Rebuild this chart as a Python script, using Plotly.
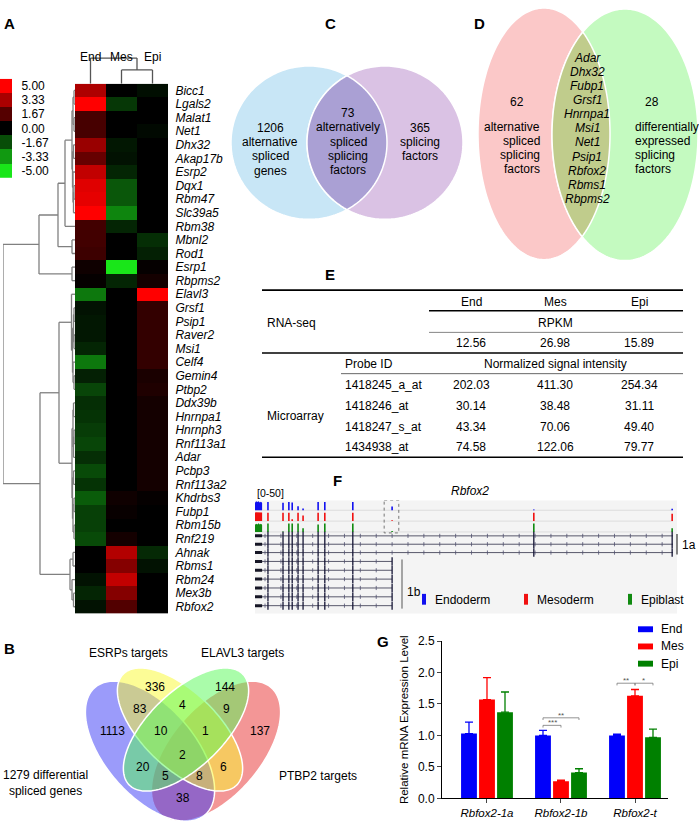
import numpy as np
import plotly.graph_objects as go

W, H = 699, 825
FONT = "Liberation Sans, Arial, sans-serif"


def px(x):
    return x / W


def py(y):
    return 1 - y / H


# ============================ DATA ============================
# ---- Panel A: heatmap of splicing factors ----
genes = ["Bicc1", "Lgals2", "Malat1", "Net1", "Dhx32", "Akap17b", "Esrp2", "Dqx1", "Rbm47", "Slc39a5",
         "Rbm38", "Mbnl2", "Rod1", "Esrp1", "Rbpms2", "Elavl3", "Grsf1", "Psip1", "Raver2", "Msi1",
         "Celf4", "Gemin4", "Ptbp2", "Ddx39b", "Hnrnpa1", "Hnrnph3", "Rnf113a1", "Adar", "Pcbp3", "Rnf113a2",
         "Khdrbs3", "Fubp1", "Rbm15b", "Rnf219", "Ahnak", "Rbms1", "Rbm24", "Mex3b", "Rbfox2"]
end_z = [3.4, 5.0, 1.4, 1.4, 3.0, 2.0, 3.8, 4.4, 4.5, 5.0,
         1.3, 1.3, 1.2, 0.3, 0.1, -2.6, -0.4, -0.5, -0.5, -0.8,
         -2.6, -0.7, -1.5, -1.0, -1.1, -1.3, -1.5, -1.0, -1.6, -1.1,
         -2.0, -1.4, -1.4, -1.6, 0.0, 0.0, -0.4, -0.8, -0.4]
mes_z = [0.0, -1.2, 0.0, 0.0, -0.5, -0.4, -0.8, -1.9, -1.9, -2.9,
         -0.8, 0.0, 0.0, -5.0, -0.8, 0.0, 0.0, 0.0, 0.0, 0.0,
         0.0, 0.0, 0.0, 0.0, 0.0, 0.0, 0.0, 0.0, 0.0, 0.0,
         0.3, 0.15, 0.0, 0.4, 3.5, 2.6, 3.8, 2.6, 1.6]
epi_z = [-0.3, 0.0, 0.0, -0.2, 0.0, 0.0, 0.0, 0.0, 0.0, 0.0,
         0.0, -1.0, -0.7, 0.1, 0.4, 5.0, 1.0, 1.0, 1.0, 1.0,
         1.0, 0.5, 0.6, 0.4, 0.4, 0.4, 0.4, 0.4, 0.4, 0.4,
         0.1, 0.0, 0.0, 0.0, -0.9, -0.4, 0.0, 0.0, 0.0]
conditions = ["End", "Mes", "Epi"]
cbar_values = [5.00, 3.33, 1.67, 0.00, -1.67, -3.33, -5.00]

# dendrograms: [merge height, left, right]; leaves are row / column indices
row_tree = [72,
            [36,
             [17,
              [10,
               [3, [2, [1, 0, 1], [1, 2, 3]], [2.5, [1.5, 4, 5], [2, 6, [1.5, [1, 7, 8], 9]]]],
               10],
              [3, 11, 12]],
             [3, 13, 14]],
            [35,
             [16,
              [3.5, 15, [2.5, [1.5, [1, 16, 17], [1, 18, 19]], [2, 20, [1, 21, 22]]]],
              [3, [2, [1.5, 23, 24], [1.5, [1, 25, 26], 27]],
               [2.5, [1.5, 28, 29], [2, [1, 30, 31], [1, 32, 33]]]]],
             [5, [2, 34, 35], [3, 36, [1.5, 37, 38]]]]]
col_tree = [26, 0, [14, 1, 2]]

# ---- Panel B: four-set Venn ----
venn4_labels = ["1279 differential<br>spliced genes", "ESRPs targets", "ELAVL3 targets", "PTBP2 targets"]
venn4_counts = [336, 144, 1113, 83, 4, 9, 137, 10, 1, 2, 20, 6, 5, 8, 38]

# ---- Panel C ----
venn_c_counts = [1206, 73, 365]
# ---- Panel D ----
venn_d_counts = [62, 28]
d_shared = ["Adar", "Dhx32", "Fubp1", "Grsf1", "Hnrnpa1", "Msi1", "Net1", "Psip1", "Rbfox2", "Rbms1", "Rbpms2"]

# ---- Panel E: table ----
tbl_cols = ["End", "Mes", "Epi"]
rpkm = [12.56, 26.98, 15.89]
probe_ids = ["1418245_a_at", "1418246_at", "1418247_s_at", "1434938_at"]
probe_end = [202.03, 30.14, 43.34, 74.58]
probe_mes = [411.30, 38.48, 70.06, 122.06]
probe_epi = [254.34, 31.11, 49.40, 79.77]

# ---- Panel F: Rbfox2 track (relative genomic units 0-1000) ----
first_exon = [0, 17]
exon_pos = [31, 67, 81, 89, 103, 115, 151, 167, 234, 328, 667, 998]
cov_end = [45, 40, 45, 42, 22, 10, 45, 45, 45, 20, 5, 8]
cov_mes = [45, 45, 45, 10, 45, 30, 45, 45, 45, 5, 45, 40]
cov_epi = [45, 3, 45, 45, 45, 20, 40, 45, 45, 5, 45, 20]
blk_end = [40, 48, 44, 48, 42, 46, 40]
blk_mes = [46, 48, 47, 48, 46, 48, 46]
blk_epi = [38, 44, 40, 46, 40, 44, 38]
short_end = 328

# ---- Panel G: qPCR ----
g_cats = ["Rbfox2-1a", "Rbfox2-1b", "Rbfox2-t"]
g_end = [1.03, 1.00, 1.00]
g_end_err = [0.18, 0.08, 0.02]
g_mes = [1.57, 0.27, 1.63]
g_mes_err = [0.35, 0.02, 0.10]
g_epi = [1.37, 0.41, 0.97]
g_epi_err = [0.32, 0.06, 0.13]

# ============================ FIGURE ============================
fig = go.Figure()
shapes = []
annots = []


def txt(x, y, s, size=12, anchor="center", color="black", bold=False, italic=False, xref="paper", yref="paper"):
    if bold:
        s = f"<b>{s}</b>"
    if italic:
        s = f"<i>{s}</i>"
    annots.append(dict(x=px(x) if xref == "paper" else x, y=py(y) if yref == "paper" else y,
                       xref=xref, yref=yref, text=s, showarrow=False, xanchor=anchor, yanchor="middle",
                       font=dict(size=size, color=color, family=FONT)))


def hidden(**kw):
    d = dict(showgrid=False, zeroline=False, showticklabels=False, showline=False, ticks="", fixedrange=True)
    d.update(kw)
    return d


# ---------- Panel A ----------
cs = [[0, "rgb(25,230,25)"], [0.5, "rgb(0,0,0)"], [1, "rgb(255,0,0)"]]
zmat = [[e, m, p] for e, m, p in zip(end_z, mes_z, epi_z)]
fig.add_trace(go.Heatmap(z=zmat, x=[0, 1, 2], y=list(range(len(genes))), colorscale=cs, zmin=-5, zmax=5,
                         showscale=False, xaxis="x", yaxis="y", hoverinfo="skip"))
fig.add_trace(go.Heatmap(z=[[v] for v in cbar_values], x=[0], y=list(range(len(cbar_values))), colorscale=cs,
                         zmin=-5, zmax=5, showscale=False, xaxis="x2", yaxis="y2", hoverinfo="skip"))


def dendro(node, segs):
    if isinstance(node, int):
        return float(node), 0.0
    h, a, b = node
    pa, ha = dendro(a, segs)
    pb, hb = dendro(b, segs)
    segs.append((ha, pa, h, pa))
    segs.append((hb, pb, h, pb))
    segs.append((h, pa, h, pb))
    return (pa + pb) / 2, h


rsegs = []
dendro(row_tree, rsegs)
xs, ys = [], []
for h0, p0, h1, p1 in rsegs:
    xs += [h0, h1, None]
    ys += [p0, p1, None]
fig.add_trace(go.Scatter(x=xs, y=ys, mode="lines", line=dict(color="#808080", width=1.3),
                         xaxis="x3", yaxis="y3", cliponaxis=False, showlegend=False, hoverinfo="skip"))
csegs = []
dendro(col_tree, csegs)
xs, ys = [], []
for h0, p0, h1, p1 in csegs:
    xs += [p0, p1, None]
    ys += [h0, h1, None]
fig.add_trace(go.Scatter(x=xs, y=ys, mode="lines", line=dict(color="#555555", width=1.3),
                         xaxis="x4", yaxis="y4", cliponaxis=False, showlegend=False, hoverinfo="skip"))
for i, c in enumerate(conditions):
    annots.append(dict(x=i, y=py(42), xref="x", yref="paper", text=c, showarrow=False,
                       font=dict(size=12, family=FONT, color="black")))

# ---------- Panel B: 4-ellipse Venn ----------


def ell_pts(cx, cy, a, b, th, n=240):
    t = np.linspace(0, 2 * np.pi, n, endpoint=False)
    r = np.radians(th)
    x = cx + a * np.cos(t) * np.cos(r) - b * np.sin(t) * np.sin(r)
    y = cy + a * np.cos(t) * np.sin(r) + b * np.sin(t) * np.cos(r)
    return x, y


def inside(x, y, cx, cy, a, b, th):
    r = np.radians(th)
    dx, dy = x - cx, y - cy
    u = dx * np.cos(r) + dy * np.sin(r)
    v = -dx * np.sin(r) + dy * np.cos(r)
    return (u / a) ** 2 + (v / b) ** 2 <= 1.0


def path_from(x, y):
    return "M " + " L ".join(f"{px(a):.5f},{py(b):.5f}" for a, b in zip(x, y)) + " Z"


def lens(e1, e2):
    x1, y1 = ell_pts(*e1, n=600)
    x2, y2 = ell_pts(*e2, n=600)
    m1 = inside(x1, y1, *e2)
    m2 = inside(x2, y2, *e1)
    X = np.concatenate([x1[m1], x2[m2]])
    Y = np.concatenate([y1[m1], y2[m2]])
    o = np.argsort(np.arctan2(Y - Y.mean(), X - X.mean()))
    return path_from(X[o], Y[o])


E_PUR = (150, 757, 85, 45, 50)
E_RED = (216, 757, 85, 45, 130)
E_YEL = (180, 735, 80, 38, 45)
E_GRN = (186, 735, 80, 38, 135)
for e, col in [(E_RED, "rgba(232,45,45,0.5)"), (E_PUR, "rgba(55,55,245,0.5)"),
               (E_YEL, "rgba(250,250,45,0.5)"), (E_GRN, "rgba(85,250,85,0.5)")]:
    shapes.append(dict(type="path", path=path_from(*ell_pts(*e)), xref="paper", yref="paper",
                       fillcolor=col, line=dict(color="white", width=1.5)))
b_pos = [(155, 692), (225, 692), (112, 736), (140, 714), (182, 710), (226, 714), (260, 736), (161, 736),
         (205, 736), (182, 761), (143, 773), (223, 773), (165, 782), (199, 782), (183, 805)]
for n, (x, y) in zip(venn4_counts, b_pos):
    txt(x, y, str(n), 12)
txt(45, 789, venn4_labels[0], 12)
txt(128, 657, venn4_labels[1], 12)
txt(242, 657, venn4_labels[2], 12)
txt(277, 782, venn4_labels[3], 12, anchor="left")

# ---------- Panel C ----------
C_BLUE = (309, 138, 78, 78, 0)
C_PUR = (385, 138, 78, 78, 0)
shapes.append(dict(type="path", path=path_from(*ell_pts(*C_BLUE)), xref="paper", yref="paper",
                   fillcolor="rgb(200,230,246)", line=dict(color="white", width=1.5)))
shapes.append(dict(type="path", path=path_from(*ell_pts(*C_PUR)), xref="paper", yref="paper",
                   fillcolor="rgb(218,194,228)", line=dict(color="white", width=1.5)))
shapes.append(dict(type="path", path=lens(C_BLUE, C_PUR), xref="paper", yref="paper",
                   fillcolor="rgb(170,160,212)", line=dict(color="white", width=1.5)))
for i, s in enumerate([str(venn_c_counts[0]), "alternative", "spliced", "genes"]):
    txt(270, 123 + 14.5 * i, s, 12)
for i, s in enumerate([str(venn_c_counts[1]), "alternatively", "spliced", "splicing", "factors"]):
    txt(348, 108 + 14.5 * i, s, 12)
for i, s in enumerate([str(venn_c_counts[2]), "splicing", "factors"]):
    txt(420, 123 + 14.5 * i, s, 12)

# ---------- Panel D ----------
D_PINK = (544, 129, 66, 128, 0)
D_GRN = (625, 130, 73, 128, 0)
shapes.append(dict(type="path", path=path_from(*ell_pts(*D_PINK)), xref="paper", yref="paper",
                   fillcolor="rgb(251,200,200)", line=dict(color="white", width=1.5)))
shapes.append(dict(type="path", path=path_from(*ell_pts(*D_GRN)), xref="paper", yref="paper",
                   fillcolor="rgb(196,250,192)", line=dict(color="white", width=1.5)))
shapes.append(dict(type="path", path=lens(D_PINK, D_GRN), xref="paper", yref="paper",
                   fillcolor="rgb(192,204,140)", line=dict(color="white", width=1.5)))
txt(517, 97, str(venn_d_counts[0]), 12)
for i, s in enumerate(["alternative", "spliced", "splicing", "factors"]):
    txt(542, 122 + 14.3 * i, s, 12, anchor="right")
txt(652, 97, str(venn_d_counts[1]), 12)
for i, s in enumerate(["differentially", "expressed", "splicing", "factors"]):
    txt(633, 122 + 14.3 * i, s, 12, anchor="left")
for i, s in enumerate(d_shared):
    txt(587, 52 + 14.3 * i, s, 12, italic=True)

# ---------- Panel E: table ----------
TL, TR, TC = 262, 683, 429
col_x = [471, 555, 639]


def hline(y, x0, x1, w, color="black"):
    shapes.append(dict(type="line", xref="paper", yref="paper", x0=px(x0), x1=px(x1), y0=py(y), y1=py(y),
                       line=dict(color=color, width=w)))


hline(288, TL, TR, 1.6)
hline(309, TC, TR, 1.3)
hline(331, TC, TR, 0.9, "#777777")
hline(352, TL, TR, 1.6)
hline(373, 341, TR, 0.9, "#555555")
hline(458, TL, TR, 1.6)
for x, c in zip(col_x, tbl_cols):
    txt(x, 300, c, 12)
txt(col_x[1], 321, "RPKM", 12)
for x, v in zip(col_x, rpkm):
    txt(x, 342, f"{v:.2f}", 12)
txt(265, 321, "RNA-seq", 12, anchor="left")
txt(343, 363, "Probe ID", 12, anchor="left")
txt(col_x[1], 363, "Normalized signal intensity", 12)
txt(265, 416, "Microarray", 12, anchor="left")
for i, pid in enumerate(probe_ids):
    y = 385 + 21 * i
    txt(343, y, pid, 12, anchor="left")
    for x, v in zip(col_x, [probe_end[i], probe_mes[i], probe_epi[i]]):
        txt(x, y, f"{v:.2f}", 12)

# ---------- Panel F: genome track ----------
shapes.append(dict(type="rect", xref="paper", yref="paper", x0=px(255), x1=px(677), y0=py(617), y1=py(502),
                   fillcolor="#f4f4f4", line=dict(width=0), layer="below"))
cov_base = [10, 21, 32]
cov_scale = 0.19
trk_colors = ["#1010f0", "#f01010", "#108a10"]
for vals, blk, base, col in zip([cov_end, cov_mes, cov_epi], [blk_end, blk_mes, blk_epi], cov_base, trk_colors):
    fig.add_trace(go.Scatter(x=[0, 1000], y=[base, base], mode="lines", line=dict(color="#d8d8d8", width=0.8),
                             xaxis="x6", yaxis="y6", showlegend=False, hoverinfo="skip"))
    xs, ys = [], []
    for g, v in zip(exon_pos, vals):
        xs += [g, g, None]
        ys += [base, base - v * cov_scale, None]
    fig.add_trace(go.Scatter(x=xs, y=ys, mode="lines", line=dict(color=col, width=1.6), xaxis="x6", yaxis="y6",
                             cliponaxis=False, showlegend=False, hoverinfo="skip"))
    bx = list(np.linspace(first_exon[0], first_exon[1], len(blk)))
    fig.add_trace(go.Scatter(x=[first_exon[0]] + bx + [first_exon[1]],
                             y=[base] + [base - v * cov_scale for v in blk] + [base],
                             mode="lines", fill="toself", fillcolor=col, line=dict(width=0, color=col),
                             xaxis="x6", yaxis="y6", showlegend=False, hoverinfo="skip"))

long_rows = [36, 44.5, 53]
short_rows = [62, 71, 80, 89, 98, 107]
lx, ly, tx, ty, cx_, cy_, fx, fy = [], [], [], [], [], [], [], []
for rows, gend in [(long_rows, 1000), (short_rows, short_end)]:
    for r in rows:
        lx += [0, gend, None]
        ly += [r, r, None]
        fx += [first_exon[0], first_exon[1], None]
        fy += [r, r, None]
        for g in exon_pos:
            if g <= gend and not (gend == 1000 and g == short_end):
                tx.append(g)
                ty.append(r)
        for g in np.arange(24, gend - 8, 38):
            cx_.append(g)
            cy_.append(r)
fig.add_trace(go.Scatter(x=lx, y=ly, mode="lines", line=dict(color="#303048", width=0.8), xaxis="x6",
                         yaxis="y6", showlegend=False, hoverinfo="skip"))
fig.add_trace(go.Scatter(x=fx, y=fy, mode="lines", line=dict(color="#151525", width=3), xaxis="x6",
                         yaxis="y6", showlegend=False, hoverinfo="skip"))
fig.add_trace(go.Scatter(x=tx, y=ty, mode="markers", marker=dict(symbol="line-ns", size=6,
                         line=dict(color="#151535", width=1.3)), xaxis="x6", yaxis="y6", cliponaxis=False,
                         showlegend=False, hoverinfo="skip"))
fig.add_trace(go.Scatter(x=cx_, y=cy_, mode="markers", marker=dict(symbol="line-ns", size=3,
                         line=dict(color="#505070", width=0.8)), xaxis="x6", yaxis="y6",
                         showlegend=False, hoverinfo="skip"))
shapes.append(dict(type="rect", xref="x6", yref="y6", x0=309, x1=344, y0=0, y1=33,
                   line=dict(color="#777777", width=1, dash="dot")))
txt(255, 494, "[0-50]", 10.5, anchor="left")
txt(470, 492, "Rbfox2", 12, italic=True)
shapes.append(dict(type="line", xref="paper", yref="paper", x0=px(677), x1=px(677), y0=py(536), y1=py(557),
                   line=dict(color="#333333", width=1.2)))
txt(680, 547, "1a", 12, anchor="left")
shapes.append(dict(type="line", xref="paper", yref="paper", x0=px(402), x1=px(402), y0=py(562), y1=py(612),
                   line=dict(color="#555555", width=1)))
txt(405, 595, "1b", 12, anchor="left")
for bx0, name, col in [(422, "Endoderm", trk_colors[0]), (524, "Mesoderm", trk_colors[1]),
                       (628, "Epiblast", trk_colors[2])]:
    shapes.append(dict(type="rect", xref="paper", yref="paper", x0=px(bx0), x1=px(bx0 + 4), y0=py(608),
                       y1=py(597), fillcolor=col, line=dict(width=0)))
    txt(bx0 + 11, 603, name, 12, anchor="left")

# ---------- Panel G: bar chart ----------
g_colors = ["rgb(0,0,250)", "rgb(255,0,0)", "rgb(0,128,0)"]
for name, vals, errs, col in [("End", g_end, g_end_err, g_colors[0]), ("Mes", g_mes, g_mes_err, g_colors[1]),
                              ("Epi", g_epi, g_epi_err, g_colors[2])]:
    fig.add_trace(go.Bar(x=g_cats, y=vals, name=name, marker=dict(color=col, line=dict(width=0)),
                         error_y=dict(type="data", array=errs, arrayminus=[0] * len(errs), symmetric=False,
                                      color=col, thickness=1.3, width=4),
                         xaxis="x5", yaxis="y5", showlegend=False, hoverinfo="skip"))
for i, (name, col) in enumerate(zip(conditions, g_colors)):
    yy = 633 + 17.5 * i
    shapes.append(dict(type="rect", xref="paper", yref="paper", x0=px(638), x1=px(653), y0=py(yy + 3),
                       y1=py(yy - 3), fillcolor=col, line=dict(width=0)))
    txt(659, yy, name, 12, anchor="left")

off = 0.243


def bracket(x0, x1, y, label):
    shapes.append(dict(type="path", xref="x5", yref="y5",
                       path=f"M {x0},{y - 0.035} L {x0},{y} L {x1},{y} L {x1},{y - 0.035}",
                       line=dict(color="#777777", width=0.8)))
    annots.append(dict(x=(x0 + x1) / 2, y=y, xref="x5", yref="y5", text=label, showarrow=False,
                       yanchor="bottom", yshift=-4, font=dict(size=8, color="#555555", family=FONT)))


bracket(1 - off, 1, 1.16, "***")
bracket(1 - off, 1 + off, 1.28, "**")
bracket(2 - off, 2, 1.83, "**")
bracket(2, 2 + off, 1.83, "*")

# ---------- panel letters ----------
for L, x, y in [("A", 9, 17), ("B", 9, 653), ("C", 330, 17), ("D", 479, 17), ("E", 330, 272),
                ("F", 337, 482), ("G", 383, 645)]:
    txt(x, y, L, 15, bold=True)

# ============================ LAYOUT ============================
fig.update_layout(
    width=W, height=H, margin=dict(l=0, r=0, t=0, b=0),
    paper_bgcolor="white", plot_bgcolor="rgba(0,0,0,0)",
    font=dict(family=FONT, size=12, color="black"),
    barmode="group", bargap=0.27, bargroupgap=0.12,
    showlegend=False,
    xaxis=hidden(domain=[px(75), px(168)], range=[-0.5, 2.5], anchor="y"),
    yaxis=dict(domain=[py(617), py(78)], range=[len(genes) - 0.5, -0.5], side="right", anchor="x",
               tickmode="array", tickvals=list(range(len(genes))), ticktext=[f"<i>{g}</i>" for g in genes],
               tickfont=dict(size=12, family=FONT), ticks="outside", ticklen=4, tickcolor="rgba(0,0,0,0)",
               showgrid=False, zeroline=False, showline=False, fixedrange=True),
    xaxis2=hidden(domain=[0, px(12)], range=[-0.5, 0.5], anchor="y2"),
    yaxis2=dict(domain=[py(174), py(73)], range=[len(cbar_values) - 0.5, -0.5], side="right", anchor="x2",
                tickmode="array", tickvals=list(range(len(cbar_values))),
                ticktext=[f"{v:.2f}" for v in cbar_values], tickfont=dict(size=12, family=FONT),
                ticks="outside", ticklen=6, tickcolor="rgba(0,0,0,0)", showgrid=False, zeroline=False,
                showline=False, fixedrange=True),
    xaxis3=hidden(domain=[px(3), px(75)], range=[72, 0], anchor="y3"),
    yaxis3=hidden(domain=[py(617), py(78)], range=[len(genes) - 0.5, -0.5], anchor="x3"),
    xaxis4=hidden(domain=[px(75), px(168)], range=[-0.5, 2.5], anchor="y4"),
    yaxis4=hidden(domain=[py(78), py(50)], range=[0, 28], anchor="x4"),
    xaxis5=dict(domain=[px(442), px(668)], range=[-0.608, 2.446], anchor="y5", type="category",
                tickmode="array", tickvals=g_cats, ticktext=[f"<i>{c}</i>" for c in g_cats],
                tickfont=dict(size=11.5, family=FONT), ticks="outside", ticklen=4, tickangle=0,
                showline=True, linecolor="black", linewidth=1, showgrid=False, zeroline=False, fixedrange=True),
    yaxis5=dict(domain=[py(805), py(645)], range=[0, 2.5], anchor="x5", tickmode="linear", tick0=0, dtick=0.5,
                tickformat=".1f", tickfont=dict(size=12, family=FONT), ticks="outside", ticklen=4,
                showline=True, linecolor="black", linewidth=1, showgrid=False, zeroline=False, fixedrange=True,
                title=dict(text="Relative mRNA Expression Level", font=dict(size=11.5, family=FONT), standoff=6)),
    xaxis6=hidden(domain=[px(255), px(673)], range=[0, 1000], anchor="y6"),
    yaxis6=hidden(domain=[py(617), py(502)], range=[115, 0], anchor="x6"),
    shapes=shapes,
    annotations=annots,
)

fig.write_html("out.html", config={"displayModeBar": False},
               post_script="document.body.style.margin='0px';document.body.style.overflow='hidden';")
